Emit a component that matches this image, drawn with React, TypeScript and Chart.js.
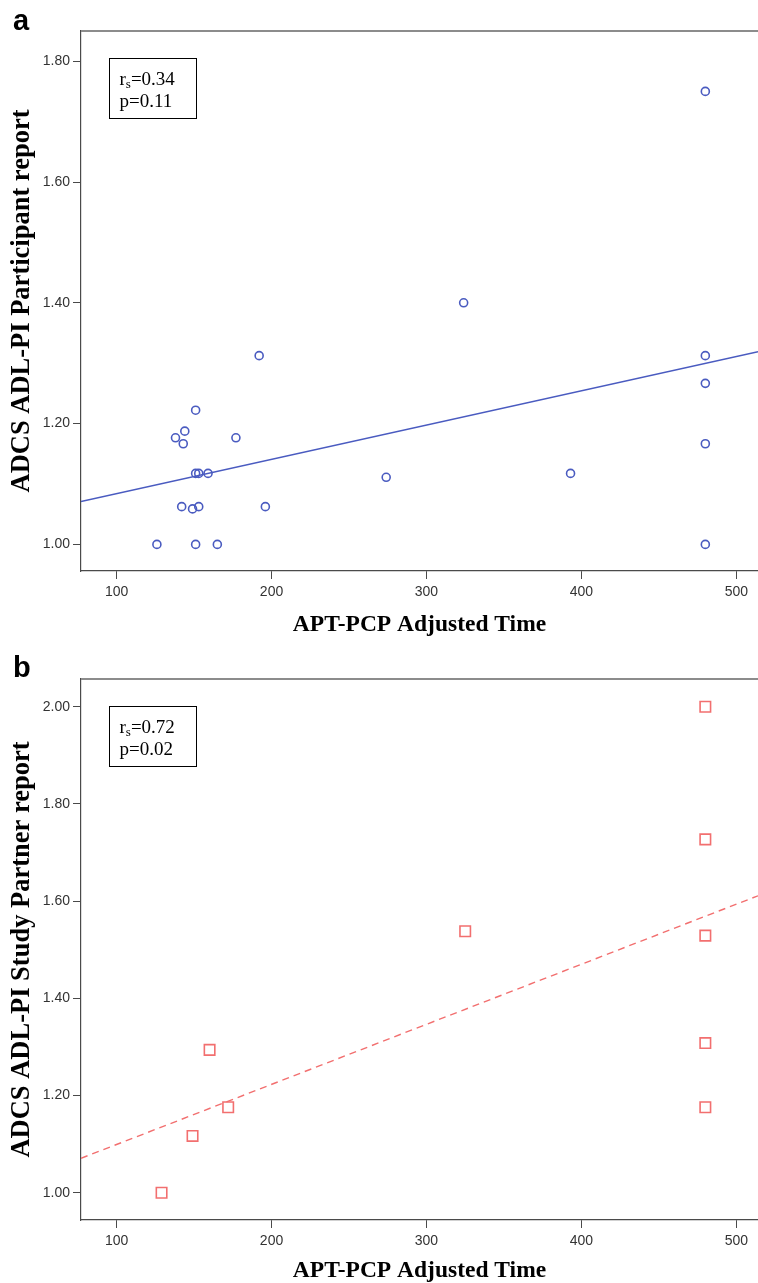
import React, { useEffect, useRef } from "react";
import { Chart, registerables } from "chart.js";

Chart.register(...registerables);

// ---------- data ----------
const xTicks = [100, 200, 300, 400, 500];
const yTicksA = [1.0, 1.2, 1.4, 1.6, 1.8];
const yTicksB = [1.0, 1.2, 1.4, 1.6, 1.8, 2.0];

// Panel a: participant report
const timeA = [480, 324, 192, 480, 480, 151, 144, 138, 143, 177, 480, 151, 153, 159, 274, 393, 142, 149, 153, 196, 126, 151, 165, 480];
const scoreA = [1.75, 1.40, 1.3125, 1.3125, 1.2667, 1.2222, 1.1875, 1.1765, 1.1667, 1.1765, 1.1667, 1.1176, 1.1176, 1.1176, 1.1111, 1.1176, 1.0625, 1.0588, 1.0625, 1.0625, 1.0, 1.0, 1.0, 1.0];
const fitTimeA = [77, 514];
const fitScoreA = [1.071, 1.319];

// Panel b: study partner report
const timeB = [480, 480, 325, 480, 480, 480, 160, 172, 149, 129];
const scoreB = [2.0, 1.727, 1.538, 1.529, 1.308, 1.176, 1.294, 1.176, 1.117, 1.0];
const fitTimeB = [77, 514];
const fitScoreB = [1.071, 1.611];

const statsA = ["0.34", "0.11"];
const statsB = ["0.72", "0.02"];

const X_TITLE = "APT-PCP Adjusted Time";
const Y_TITLE_A = "ADCS ADL-PI Participant report";
const Y_TITLE_B = "ADCS ADL-PI Study Partner report";

const BLUE = "#4a5bc0";
const RED = "#f26f6f";
const AXIS = "#4a4a4a";
const TICK_FONT = '"Liberation Sans Narrow", "Arial Narrow", "Liberation Sans", sans-serif';
const SERIF = '"Liberation Serif", "Times New Roman", serif';

function toPts(xs: number[], ys: number[]) {
  return xs.map((x, i) => ({ x, y: ys[i] }));
}

function overlayPlugin(label: string, stats: string[], labelBaseline: number) {
  return {
    id: "overlay_" + label,
    afterDraw(chart: any) {
      const { ctx, chartArea: ca } = chart;
      ctx.save();
      // top frame line
      ctx.strokeStyle = "#8c8c8c";
      ctx.lineWidth = 2;
      ctx.beginPath();
      ctx.moveTo(ca.left, ca.top);
      ctx.lineTo(ca.right, ca.top);
      ctx.stroke();
      // panel label
      ctx.fillStyle = "#000";
      ctx.textAlign = "left";
      ctx.textBaseline = "alphabetic";
      ctx.font = 'bold 29px "Liberation Sans", Arial, sans-serif';
      ctx.fillText(label, 13, labelBaseline);
      // stats box
      const bx = ca.left + 28.5;
      const by = ca.top + 27.5;
      const bw = 87;
      const bh = 60;
      ctx.strokeStyle = "#000";
      ctx.lineWidth = 1;
      ctx.strokeRect(bx, by, bw, bh);
      const tx = bx + 10;
      ctx.font = "19px " + SERIF;
      ctx.fillText("r", tx, by + 26);
      const rw = ctx.measureText("r").width;
      ctx.font = "13px " + SERIF;
      ctx.fillText("s", tx + rw, by + 29);
      const sw = ctx.measureText("s").width;
      ctx.font = "19px " + SERIF;
      ctx.fillText("=" + stats[0], tx + rw + sw, by + 26);
      ctx.fillText("p=" + stats[1], tx, by + 48);
      ctx.restore();
    },
  };
}

function makeConfig(opts: {
  pts: { x: number; y: number }[];
  fit: { x: number; y: number }[];
  color: string;
  pointStyle: string;
  radius: number;
  dash: number[];
  yMin: number;
  yMax: number;
  yTicks: number[];
  yTitle: string;
  topPad: number;
  xAxisHeight: number;
  xTitlePad: number;
  label: string;
  stats: string[];
  labelBaseline: number;
}) {
  return {
    type: "scatter" as const,
    data: {
      datasets: [
        {
          data: opts.fit,
          showLine: true,
          pointRadius: 0,
          borderColor: opts.color,
          borderWidth: 1.4,
          borderDash: opts.dash,
          fill: false,
        },
        {
          data: opts.pts,
          showLine: false,
          pointStyle: opts.pointStyle,
          pointRadius: opts.radius,
          pointBorderWidth: 1.6,
          pointBorderColor: opts.color,
          pointBackgroundColor: "rgba(0,0,0,0)",
          borderColor: opts.color,
          backgroundColor: "rgba(0,0,0,0)",
        },
      ],
    },
    options: {
      animation: false,
      responsive: false,
      events: [],
      layout: { autoPadding: false, padding: { top: opts.topPad, right: 0, left: 0, bottom: 0 } },
      plugins: { legend: { display: false }, tooltip: { enabled: false } },
      scales: {
        x: {
          type: "linear",
          min: 77,
          max: 514,
          afterFit: (s: any) => {
            s.height = opts.xAxisHeight;
            s.paddingLeft = 0;
            s.paddingRight = 0;
          },
          afterBuildTicks: (s: any) => {
            s.ticks = xTicks.map((v) => ({ value: v }));
          },
          ticks: {
            font: { family: TICK_FONT, size: 14 },
            color: "#333",
            padding: 5,
            maxRotation: 0,
            callback: (v: any) => String(v),
          },
          grid: { drawOnChartArea: false, drawTicks: true, tickLength: 8, color: AXIS, lineWidth: 1 },
          border: { display: true, color: AXIS, width: 1.2 },
          title: {
            display: true,
            text: X_TITLE,
            color: "#000",
            font: { family: SERIF, size: 23.5, weight: "bold", lineHeight: 1 },
            padding: { top: 0, bottom: opts.xTitlePad },
          },
        },
        y: {
          type: "linear",
          min: opts.yMin,
          max: opts.yMax,
          afterFit: (s: any) => {
            s.width = 81;
            s.paddingTop = 0;
            s.paddingBottom = 0;
          },
          afterBuildTicks: (s: any) => {
            s.ticks = opts.yTicks.map((v) => ({ value: v }));
          },
          ticks: {
            font: { family: TICK_FONT, size: 14 },
            color: "#333",
            padding: 3,
            callback: (v: any) => Number(v).toFixed(2),
          },
          grid: { drawOnChartArea: false, drawTicks: true, tickLength: 8, color: AXIS, lineWidth: 1 },
          border: { display: true, color: AXIS, width: 1.2 },
          title: {
            display: true,
            text: opts.yTitle,
            color: "#000",
            font: { family: SERIF, size: 26.5, weight: "bold", lineHeight: 1 },
            padding: { top: 9, bottom: 0 },
          },
        },
      },
    },
    plugins: [overlayPlugin(opts.label, opts.stats, opts.labelBaseline)],
  };
}

function Panel({ cfg, height }: { cfg: any; height: number }) {
  const ref = useRef<HTMLCanvasElement | null>(null);
  useEffect(() => {
    if (!ref.current) return;
    const chart = new Chart(ref.current, cfg);
    return () => chart.destroy();
  }, [cfg]);
  return <canvas ref={ref} width={758} height={height} style={{ display: "block", width: 758, height }} />;
}

const cfgA = makeConfig({
  pts: toPts(timeA, scoreA),
  fit: toPts(fitTimeA, fitScoreA),
  color: BLUE,
  pointStyle: "circle",
  radius: 4,
  dash: [],
  yMin: 0.956,
  yMax: 1.85,
  yTicks: yTicksA,
  yTitle: Y_TITLE_A,
  topPad: 31,
  xAxisHeight: 74,
  xTitlePad: 8,
  label: "a",
  stats: statsA,
  labelBaseline: 30,
});

const cfgB = makeConfig({
  pts: toPts(timeB, scoreB),
  fit: toPts(fitTimeB, fitScoreB),
  color: RED,
  pointStyle: "rect",
  radius: 7.4,
  dash: [7, 5],
  yMin: 0.944,
  yMax: 2.057,
  yTicks: yTicksB,
  yTitle: Y_TITLE_B,
  topPad: 34,
  xAxisHeight: 63,
  xTitlePad: 0,
  label: "b",
  stats: statsB,
  labelBaseline: 32,
});

export default function App() {
  return (
    <div style={{ position: "absolute", left: 0, top: 0, width: 758, background: "#fff" }}>
      <Panel cfg={cfgA} height={645} />
      <Panel cfg={cfgB} height={638} />
    </div>
  );
}
